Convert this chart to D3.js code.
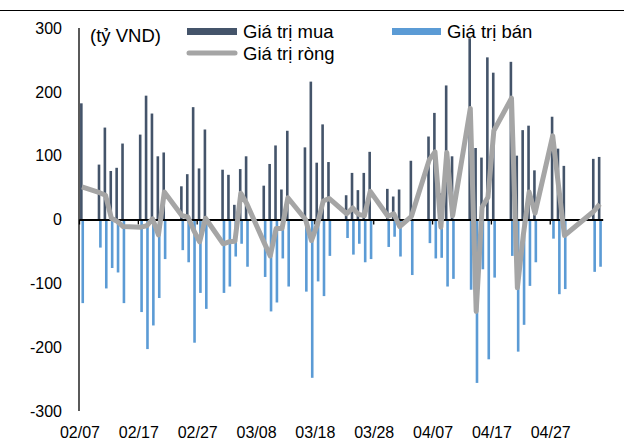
<!DOCTYPE html>
<html>
<head>
<meta charset="utf-8">
<title>Giá trị mua bán</title>
<script src="https://cdnjs.cloudflare.com/ajax/libs/d3/7.8.5/d3.min.js"></script>
<style>
body { margin: 0; background: #fff; }
svg { font-family: "Liberation Sans", Arial, sans-serif; }
.lbl { font-size: 16px; fill: #000; }
.leg { font-size: 18.5px; fill: #000; }
</style>
</head>
<body>
<script>
// trading days (2020)
var dates = ["2020-02-07",
  "2020-02-10","2020-02-11","2020-02-12","2020-02-13","2020-02-14",
  "2020-02-17","2020-02-18","2020-02-19","2020-02-20","2020-02-21",
  "2020-02-24","2020-02-25","2020-02-26","2020-02-27","2020-02-28",
  "2020-03-02","2020-03-03","2020-03-04","2020-03-05","2020-03-06",
  "2020-03-09","2020-03-10","2020-03-11","2020-03-12","2020-03-13",
  "2020-03-16","2020-03-17","2020-03-18","2020-03-19","2020-03-20",
  "2020-03-23","2020-03-24","2020-03-25","2020-03-26","2020-03-27",
  "2020-03-30","2020-03-31","2020-04-01","2020-04-03",
  "2020-04-06","2020-04-07","2020-04-08","2020-04-09","2020-04-10",
  "2020-04-13","2020-04-14","2020-04-15","2020-04-16","2020-04-17",
  "2020-04-20","2020-04-21","2020-04-22","2020-04-23","2020-04-24",
  "2020-04-27","2020-04-28","2020-04-29",
  "2020-05-04","2020-05-05"];

var buyValues = [182,
  86,144,76,81,119,
  133,194,166,99,105,
  52,71,176,80,141,
  78,70,23,79,99,
  53,87,116,47,139,
  113,216,89,149,90,
  38,73,46,73,106,
  48,36,47,92,
  130,167,41,210,99,
  284,112,97,254,230,
  247,100,140,147,77,
  161,111,84,
  95,98];

var sellValues = [-131,
  -44,-108,-76,-83,-131,
  -145,-203,-166,-123,-62,
  -48,-67,-193,-115,-140,
  -115,-105,-58,-38,-74,
  -90,-144,-130,-61,-105,
  -113,-248,-97,-120,-57,
  -29,-55,-38,-67,-62,
  -43,-27,-58,-87,
  -37,-61,-60,-105,-93,
  -110,-256,-78,-219,-91,
  -57,-207,-165,-104,-67,
  -30,-117,-109,
  -82,-74];

var netValues = [51,
  42,38,2,-3,-11,
  -12,-10,1,-24,43,
  6,4,-17,-35,2,
  -38,-35,-34,41,25,
  -37,-57,-14,-14,34,
  0,-33,-8,29,33,
  9,18,8,6,44,
  5,9,-11,5,
  93,106,-12,105,6,
  174,-144,19,35,139,
  190,-107,-25,43,10,
  131,52,-25,
  13,24];

var yTicks = [-300,-200,-100,0,100,200,300];
var xTickDates = ["2020-02-07","2020-02-17","2020-02-27","2020-03-08","2020-03-18",
  "2020-03-28","2020-04-07","2020-04-17","2020-04-27"];
var xTickLabels = ["02/07","02/17","02/27","03/08","03/18","03/28","04/07","04/17","04/27"];

var W = 624, H = 443;
var parse = d3.utcParse("%Y-%m-%d");
var half = function(d) { return d3.utcHour.offset(d, -12); };

var svg = d3.select("body").append("svg")
  .attr("width", W).attr("height", H);

// thin rule at the top of the frame
svg.append("line").attr("x1", 0).attr("x2", W).attr("y1", 10.5).attr("y2", 10.5)
  .attr("stroke", "#000").attr("stroke-width", 1);

var x = d3.scaleUtc()
  .domain([half(parse(dates[0])), d3.utcHour.offset(parse(dates[dates.length - 1]), 12)])
  .range([79, 602.7]);
var y = d3.scaleLinear().domain([-300, 300]).range([411, 28]);

// y labels
svg.selectAll(".ylab").data(yTicks).enter().append("text")
  .attr("class", "lbl ylab")
  .attr("x", 62).attr("y", function(d) { return y(d); })
  .attr("dy", "0.36em").attr("text-anchor", "end")
  .text(function(d) { return d; });

// bars
var bw = 2.6;
svg.selectAll(".buy").data(dates).enter().append("rect")
  .attr("x", function(d) { return x(parse(d)) - 0.6 - bw / 2; })
  .attr("y", function(d, i) { return y(buyValues[i]); })
  .attr("width", bw)
  .attr("height", function(d, i) { return y(0) - y(buyValues[i]); })
  .attr("fill", "#44546A");

svg.selectAll(".sell").data(dates).enter().append("rect")
  .attr("x", function(d) { return x(parse(d)) + 0.8 - bw / 2; })
  .attr("y", y(0))
  .attr("width", bw)
  .attr("height", function(d, i) { return y(sellValues[i]) - y(0); })
  .attr("fill", "#5B9BD5");

// axes
svg.append("line").attr("x1", 79).attr("x2", 79).attr("y1", 28).attr("y2", 411)
  .attr("stroke", "#000").attr("stroke-width", 1.3);

var xAxis = d3.axisBottom(x)
  .tickValues(xTickDates.map(function(d) { return half(parse(d)); }))
  .tickSize(5).tickSizeOuter(0).tickFormat("");
svg.append("g").attr("transform", "translate(0," + y(0) + ")").call(xAxis)
  .call(function(g) {
    g.select(".domain").attr("stroke", "#000").attr("stroke-width", 2);
    g.selectAll(".tick line").attr("stroke", "#000").attr("stroke-width", 1.3);
  });

svg.selectAll(".xlab").data(xTickDates).enter().append("text")
  .attr("class", "lbl xlab")
  .attr("x", function(d) { return x(half(parse(d))) + 1; })
  .attr("y", 438).attr("text-anchor", "middle")
  .text(function(d, i) { return xTickLabels[i]; });

// net line
var line = d3.line()
  .x(function(d) { return x(parse(d)); })
  .y(function(d, i) { return y(netValues[i]); });
svg.append("path").attr("d", line(dates))
  .attr("fill", "none").attr("stroke", "#A5A5A5")
  .attr("stroke-width", 5).attr("stroke-linejoin", "round");

// unit + legend
svg.append("text").attr("class", "leg").attr("x", 90).attr("y", 42).text("(tỷ VND)");
svg.append("rect").attr("x", 187).attr("y", 28).attr("width", 50).attr("height", 7).attr("fill", "#44546A");
svg.append("text").attr("class", "leg").attr("x", 243).attr("y", 37.5).text("Giá trị mua");
svg.append("rect").attr("x", 392).attr("y", 28).attr("width", 49).attr("height", 7).attr("fill", "#5B9BD5");
svg.append("text").attr("class", "leg").attr("x", 447).attr("y", 37.5).text("Giá trị bán");
svg.append("line").attr("x1", 189).attr("x2", 235).attr("y1", 53).attr("y2", 53)
  .attr("stroke", "#A5A5A5").attr("stroke-width", 5).attr("stroke-linecap", "round");
svg.append("text").attr("class", "leg").attr("x", 243).attr("y", 59.5).text("Giá trị ròng");
</script>
</body>
</html>
